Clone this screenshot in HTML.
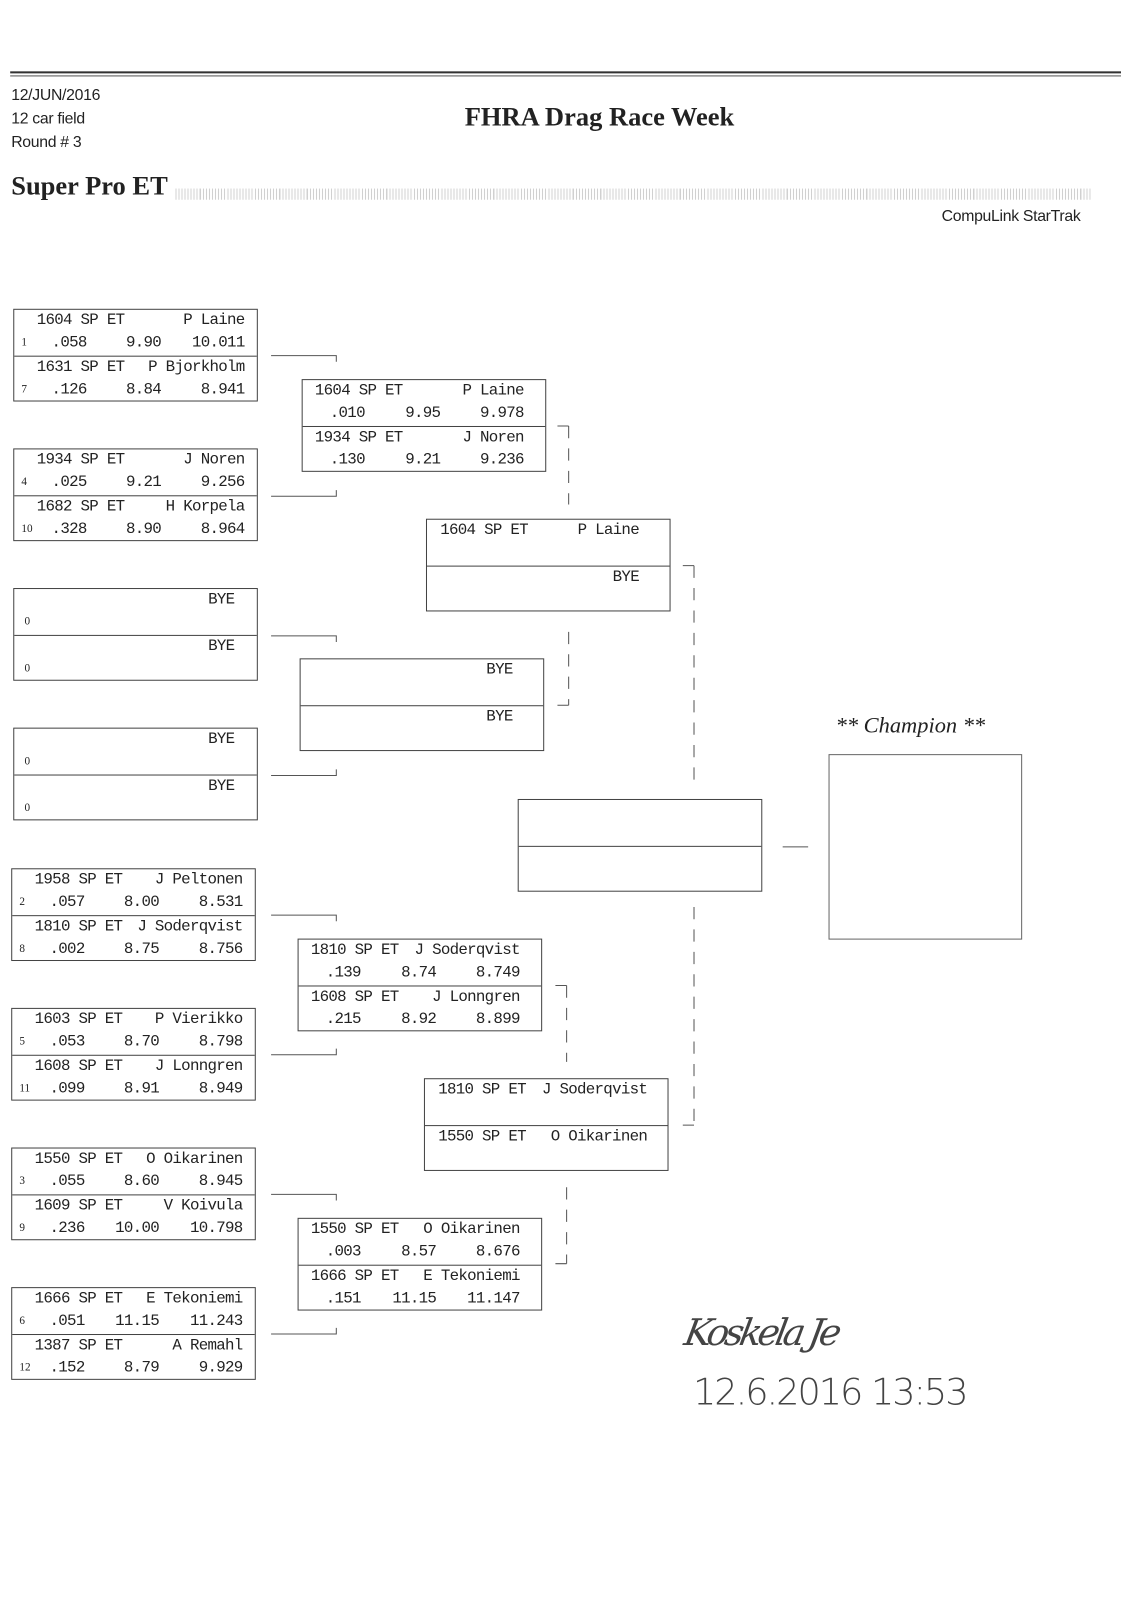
<!DOCTYPE html>
<html><head><meta charset="utf-8"><style>
html,body{margin:0;padding:0;background:#fff;}
body{width:1121px;height:1600px;overflow:hidden;position:relative;}
#w{position:absolute;left:0;top:0;width:1100px;height:1570px;transform:scale(1.0191);transform-origin:0 0;}
.t{position:absolute;white-space:nowrap;color:#222;}
.b{position:absolute;width:240px;height:91px;border:1px solid #444;box-sizing:border-box;font:15.5px "Liberation Mono","DejaVu Sans Mono",monospace;letter-spacing:-0.7px;color:#222;}
.b::after{content:"";position:absolute;left:0;right:0;top:45px;border-top:1px solid #444;}
.b span{position:absolute;line-height:18px;white-space:nowrap;}
.r1{top:1px}.r2{top:23px}.r3{top:47px}.r4{top:69px}
.sd{font:11px "Liberation Serif",serif !important;left:7px;margin-top:3px;letter-spacing:0}
.A .c{left:22px}.A .n{right:12px}.A .rt{right:167px}.A .et{right:94px}
.B .c{left:12px}.B .n{right:21px}.B .rt{right:177px}.B .et{right:103px}
.C .c{left:13px}.C .n{right:30px}
.h{font:15.5px 'Liberation Sans',sans-serif;letter-spacing:-0.3px}
</style></head><body><div id="w">
<div style="position:absolute;left:10px;top:70px;width:1090px;border-top:2px solid #333"></div>
<div style="position:absolute;left:10px;top:74px;width:1090px;border-top:1px solid #555"></div>
<div class="t h" style="left:11px;top:85px">12/JUN/2016</div>
<div class="t h" style="left:11px;top:108px">12 car field</div>
<div class="t h" style="left:11px;top:131px">Round # 3</div>
<div class="t" style="left:456px;top:100px;font:bold 26px 'Liberation Serif',serif">FHRA Drag Race Week</div>
<div class="t" style="left:11px;top:168px;font:bold 26px 'Liberation Serif',serif">Super Pro ET</div>
<div style="position:absolute;left:172px;top:185px;width:898px;height:11px;background:repeating-linear-gradient(90deg,#ccc 0 1px,#fff 1px 3px);opacity:.9"></div>
<div class="t h" style="left:924px;top:204px">CompuLink StarTrak</div>

<div class="b A" style="left:13px;top:303px"><span class="r1 c">1604 SP ET</span><span class="r1 n">P Laine</span><span class="r2 sd">1</span><span class="r2 rt">.058</span><span class="r2 et">9.90</span><span class="r2 n">10.011</span><span class="r3 c">1631 SP ET</span><span class="r3 n">P Bjorkholm</span><span class="r4 sd">7</span><span class="r4 rt">.126</span><span class="r4 et">8.84</span><span class="r4 n">8.941</span></div>
<div class="b A" style="left:13px;top:440px"><span class="r1 c">1934 SP ET</span><span class="r1 n">J Noren</span><span class="r2 sd">4</span><span class="r2 rt">.025</span><span class="r2 et">9.21</span><span class="r2 n">9.256</span><span class="r3 c">1682 SP ET</span><span class="r3 n">H Korpela</span><span class="r4 sd">10</span><span class="r4 rt">.328</span><span class="r4 et">8.90</span><span class="r4 n">8.964</span></div>
<div class="b A" style="left:13px;top:577px"><span class="r1" style="right:22px">BYE</span><span class="r2 sd" style="left:10px">0</span><span class="r3" style="right:22px">BYE</span><span class="r4 sd" style="left:10px">0</span></div>
<div class="b A" style="left:13px;top:714px"><span class="r1" style="right:22px">BYE</span><span class="r2 sd" style="left:10px">0</span><span class="r3" style="right:22px">BYE</span><span class="r4 sd" style="left:10px">0</span></div>
<div class="b A" style="left:11px;top:852px"><span class="r1 c">1958 SP ET</span><span class="r1 n">J Peltonen</span><span class="r2 sd">2</span><span class="r2 rt">.057</span><span class="r2 et">8.00</span><span class="r2 n">8.531</span><span class="r3 c">1810 SP ET</span><span class="r3 n">J Soderqvist</span><span class="r4 sd">8</span><span class="r4 rt">.002</span><span class="r4 et">8.75</span><span class="r4 n">8.756</span></div>
<div class="b A" style="left:11px;top:989px"><span class="r1 c">1603 SP ET</span><span class="r1 n">P Vierikko</span><span class="r2 sd">5</span><span class="r2 rt">.053</span><span class="r2 et">8.70</span><span class="r2 n">8.798</span><span class="r3 c">1608 SP ET</span><span class="r3 n">J Lonngren</span><span class="r4 sd">11</span><span class="r4 rt">.099</span><span class="r4 et">8.91</span><span class="r4 n">8.949</span></div>
<div class="b A" style="left:11px;top:1126px"><span class="r1 c">1550 SP ET</span><span class="r1 n">O Oikarinen</span><span class="r2 sd">3</span><span class="r2 rt">.055</span><span class="r2 et">8.60</span><span class="r2 n">8.945</span><span class="r3 c">1609 SP ET</span><span class="r3 n">V Koivula</span><span class="r4 sd">9</span><span class="r4 rt">.236</span><span class="r4 et">10.00</span><span class="r4 n">10.798</span></div>
<div class="b A" style="left:11px;top:1263px"><span class="r1 c">1666 SP ET</span><span class="r1 n">E Tekoniemi</span><span class="r2 sd">6</span><span class="r2 rt">.051</span><span class="r2 et">11.15</span><span class="r2 n">11.243</span><span class="r3 c">1387 SP ET</span><span class="r3 n">A Remahl</span><span class="r4 sd">12</span><span class="r4 rt">.152</span><span class="r4 et">8.79</span><span class="r4 n">9.929</span></div>

<div class="b B" style="left:296px;top:372px"><span class="r1 c">1604 SP ET</span><span class="r1 n">P Laine</span><span class="r2 rt">.010</span><span class="r2 et">9.95</span><span class="r2 n">9.978</span><span class="r3 c">1934 SP ET</span><span class="r3 n">J Noren</span><span class="r4 rt">.130</span><span class="r4 et">9.21</span><span class="r4 n">9.236</span></div>
<div class="b B" style="left:294px;top:646px"><span class="r1" style="right:30px">BYE</span><span class="r3" style="right:30px">BYE</span></div>
<div class="b B" style="left:292px;top:921px"><span class="r1 c">1810 SP ET</span><span class="r1 n">J Soderqvist</span><span class="r2 rt">.139</span><span class="r2 et">8.74</span><span class="r2 n">8.749</span><span class="r3 c">1608 SP ET</span><span class="r3 n">J Lonngren</span><span class="r4 rt">.215</span><span class="r4 et">8.92</span><span class="r4 n">8.899</span></div>
<div class="b B" style="left:292px;top:1195px"><span class="r1 c">1550 SP ET</span><span class="r1 n">O Oikarinen</span><span class="r2 rt">.003</span><span class="r2 et">8.57</span><span class="r2 n">8.676</span><span class="r3 c">1666 SP ET</span><span class="r3 n">E Tekoniemi</span><span class="r4 rt">.151</span><span class="r4 et">11.15</span><span class="r4 n">11.147</span></div>

<div class="b C" style="left:418px;top:509px"><span class="r1 c">1604 SP ET</span><span class="r1 n">P Laine</span><span class="r3 n">BYE</span></div>
<div class="b C" style="left:416px;top:1058px"><span class="r1 c">1810 SP ET</span><span class="r1 n" style="right:20px">J Soderqvist</span><span class="r3 c">1550 SP ET</span><span class="r3 n" style="right:20px">O Oikarinen</span></div>

<div class="b" style="left:508px;top:784px"></div>
<div class="t" style="left:820px;top:699px;font:italic 22px 'Liberation Serif',serif">** Champion **</div>
<div style="position:absolute;left:813px;top:740px;width:190px;height:182px;border:1px solid #666;box-sizing:border-box"></div>

<svg style="position:absolute;left:0;top:0" width="1100" height="1570" fill="none" stroke="#555" stroke-width="1">
<path d="M266 349H330V355M266 487H330V481M266 624H330V630M266 761H330V755M266 898H330V904M266 1035H330V1029M266 1172H330V1178M266 1309H330V1303"/>
<path d="M547 418H558M547 692H558M545 967H556M545 1240H556M670 555H681M670 1104H681M768 831H793"/>
<path stroke-dasharray="12 10" d="M558 418V495M558 620V692M556 967V1042M556 1165V1240M681 555V770M681 890V1104"/>
</svg>
<div class="t" style="left:672px;top:1288px;font:italic 36px 'DejaVu Serif',serif;color:#444;letter-spacing:-4px;transform:skewX(-10deg)">Koskela Je</div>
<div class="t" style="left:680px;top:1346px;font:36px 'DejaVu Sans',sans-serif;font-weight:200;color:#444;letter-spacing:-2px">12.6.2016 13:53</div>
</div></body></html>
